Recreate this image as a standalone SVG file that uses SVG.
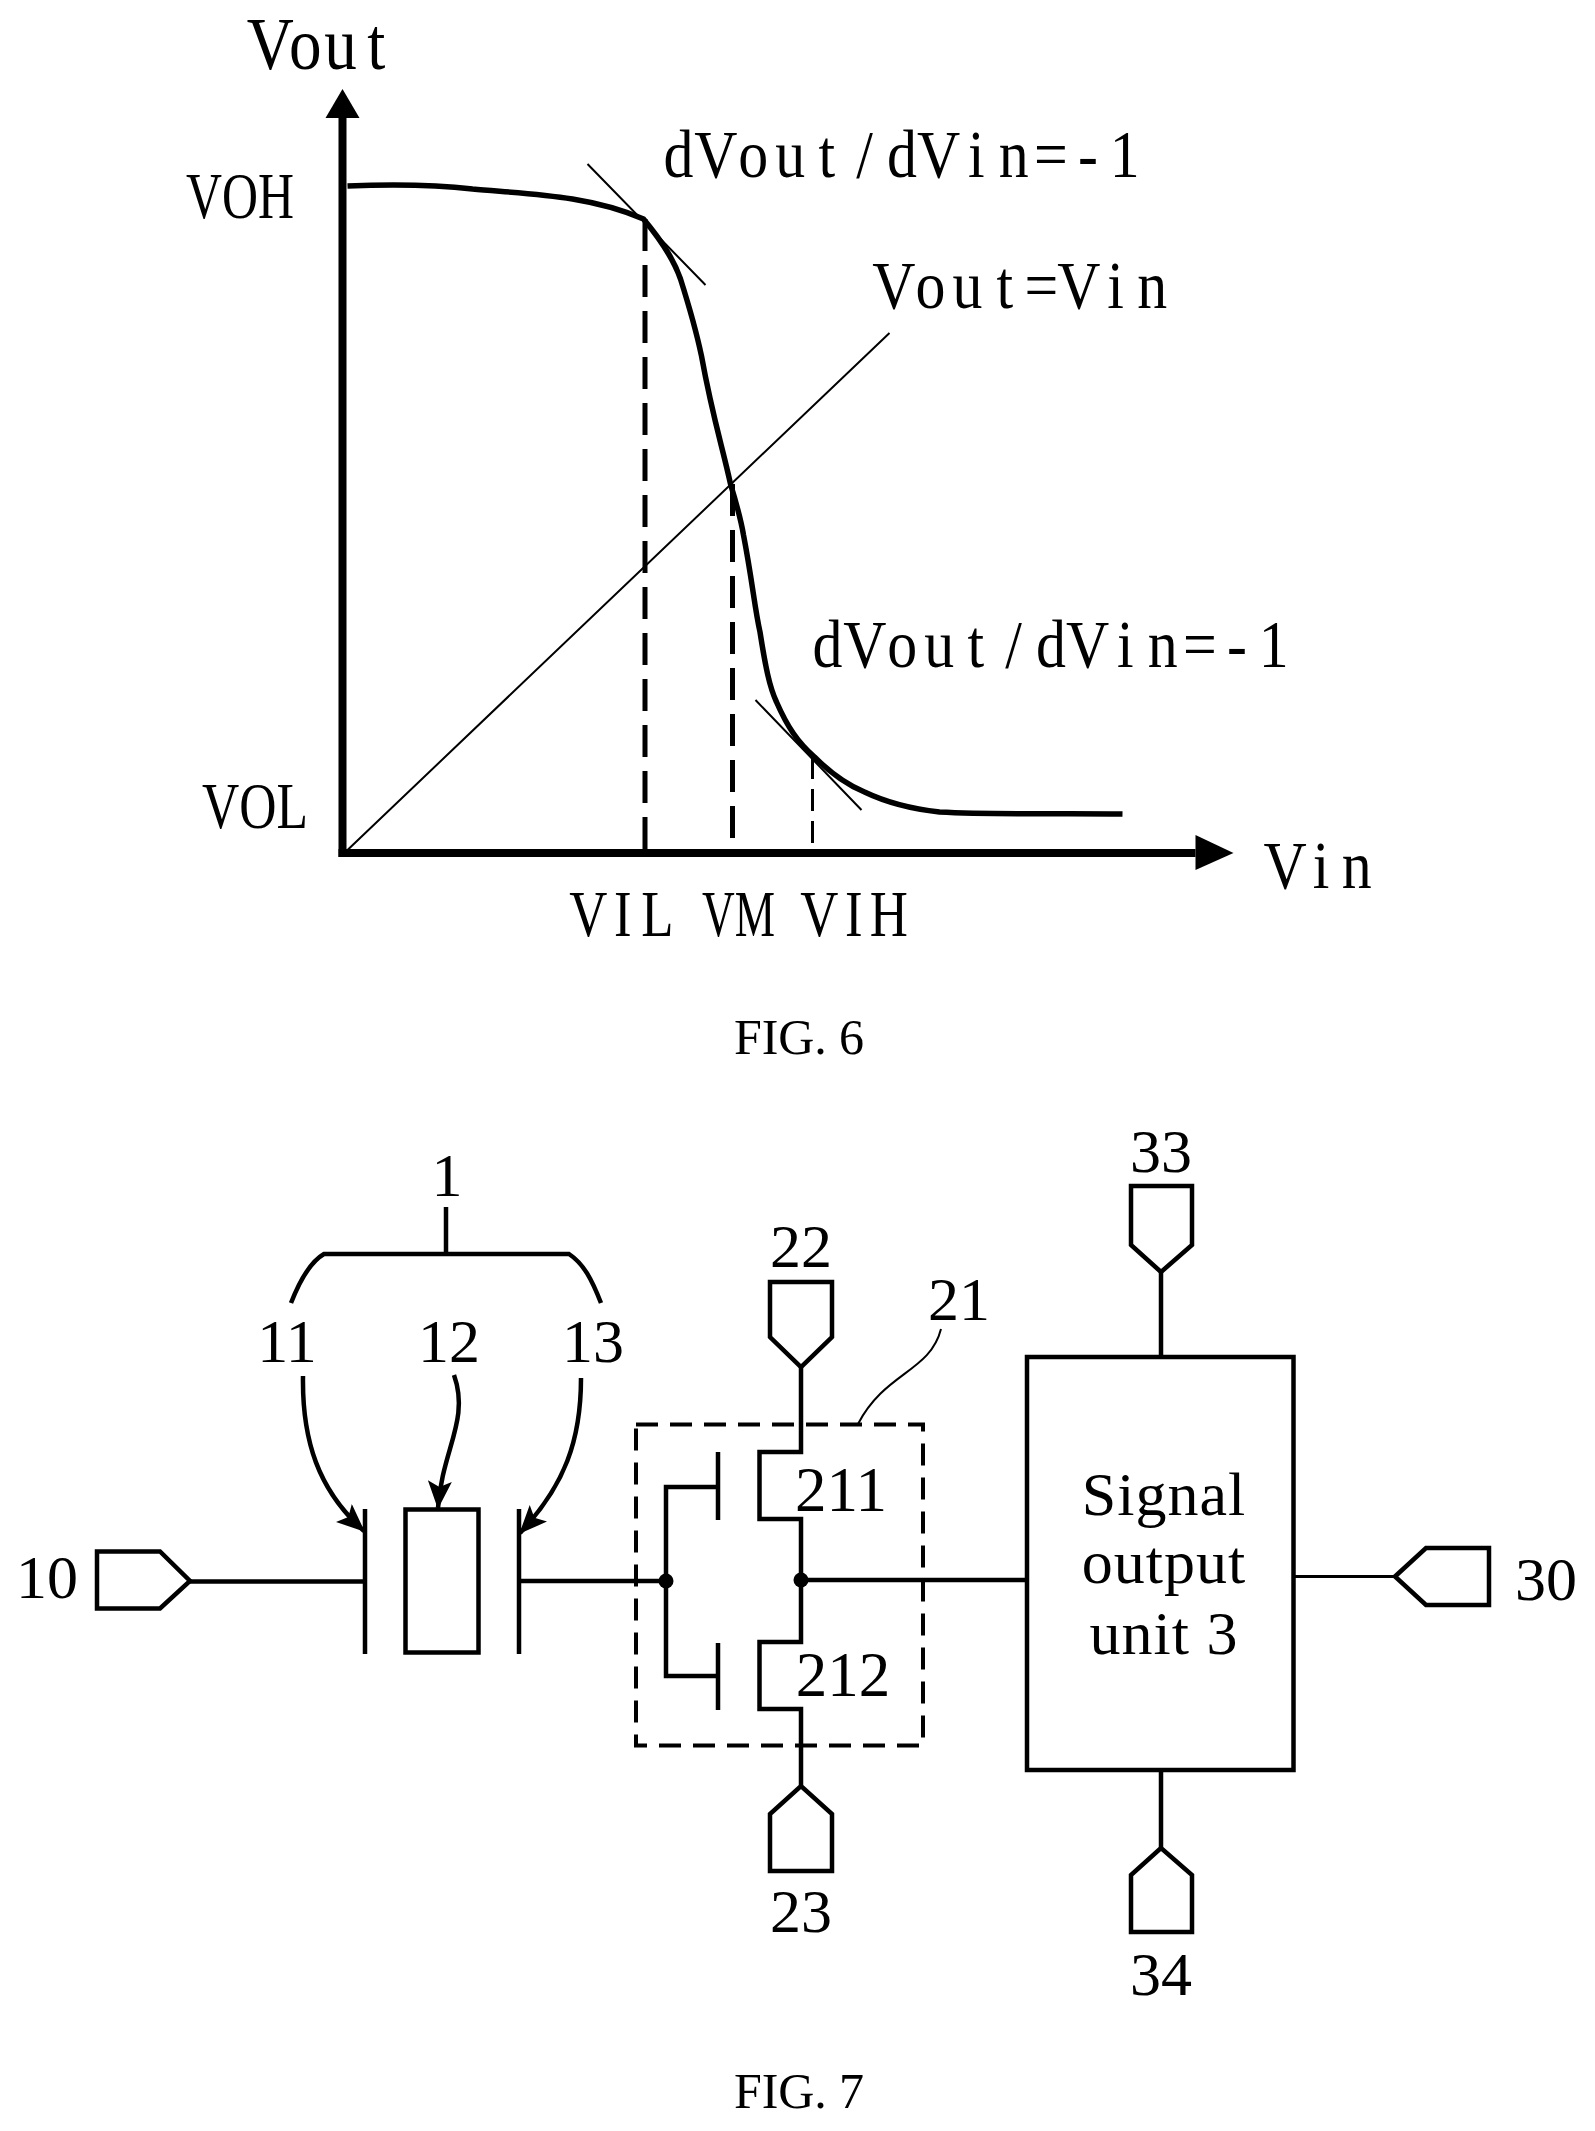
<svg xmlns="http://www.w3.org/2000/svg" width="1595" height="2131" viewBox="0 0 1595 2131">
<style>
text{font-family:"Liberation Serif","Times New Roman",serif;fill:#000}
.n{font-size:62px;text-anchor:middle}
.s{font-size:63px;text-anchor:middle}
.u{font-size:62px;letter-spacing:1px;text-anchor:middle}
.g{font-size:68px}
.h{font-size:66px}
.v{font-size:74px}
.cap{font-size:50px}
.l{fill:none;stroke:#000;stroke-width:4.500}
.p{fill:#fff;stroke:#000;stroke-width:4.500}
.t{fill:none;stroke:#000;stroke-width:2}
.d{fill:none;stroke:#000;stroke-width:5;stroke-dasharray:32 14}
.dot{fill:#000}
</style>
<defs>
<marker id="ah" viewBox="0 0 28 24" refX="27" refY="12" markerWidth="28" markerHeight="24" markerUnits="userSpaceOnUse" orient="auto"><path d="M0 0L28 12L0 24L6 12Z" fill="#000"/></marker>
</defs>
<rect width="1595" height="2131" fill="#fff"/>

<g id="fig6-plot" transform="translate(-2.500,-3)">
<path d="M345 119V860" fill="none" stroke="#000" stroke-width="8"/>
<path d="M341 856H1198" fill="none" stroke="#000" stroke-width="8"/>
<path d="M345 92L362 121H328Z"/>
<path d="M1236 856L1198 838V873Z"/>
<path d="M350 189C400 187 440 188 475 192C530 197 592 198 646 222C665 245 676 262 683 282C695 320 700 340 704 359C715 420 725 450 733 487C740 510 743 520 746 538C755 585 757 610 762.500 635C768 670 772 690 779 705C790 730 800 745 817 760C835 778 850 788 867 795C890 806 915 812 942 815C1000 818 1060 816 1125 817" fill="none" stroke="#000" stroke-width="5.500"/>
<path class="t" d="M590 167L708 288M758 703L864 813M350 853L892 336"/>
<path class="d" d="M647.500 222V856"/>
<path class="d" d="M735 487V856"/>
<path d="M815 760V856" fill="none" stroke="#000" stroke-width="3" stroke-dasharray="22 10"/>
</g>
<g id="fig6-labels">
<text class="v" transform="translate(252,69) scale(.88,1)" x="-6 42 82 131" y="0">Vout</text>
<text class="h" x="186" y="218" textLength="108" lengthAdjust="spacingAndGlyphs">VOH</text>
<text class="h" x="202" y="828" textLength="106" lengthAdjust="spacingAndGlyphs">VOL</text>
<text class="g" transform="translate(660,177) scale(.88,1)" x="4 39 89 131 180 223 258 292 350 385 425 475 511" y="0">dVout/dVin=-1</text>
<text class="g" transform="translate(875,308) scale(.88,1)" x="-3 46 88 138 170 207 264 298" y="0">Vout=Vin</text>
<text class="g" transform="translate(809,667) scale(.88,1)" x="4 39 89 131 180 223 258 292 350 385 425 475 511" y="0">dVout/dVin=-1</text>
<text class="g" transform="translate(1267,888) scale(.88,1)" x="-4 52 85" y="0">Vin</text>
<text class="h" transform="translate(570,936) scale(.8,1)" x="-1 55 89" y="0">VIL</text>
<text class="h" x="702" y="936" textLength="73" lengthAdjust="spacingAndGlyphs">VM</text>
<text class="h" transform="translate(801,936) scale(.8,1)" x="-1 55 86" y="0">VIH</text>
<text class="cap" x="734" y="1054" textLength="130">FIG. 6</text>
</g>

<g id="connectors">
<path class="l" d="M446 1207V1254"/>
<path class="l" d="M291 1303C300 1280 310 1262 324 1254H569C584 1264 592 1280 601 1303"/>
<path class="l" d="M303 1376C302 1440 318 1490 364 1531" marker-end="url(#ah)"/>
<path class="l" d="M454 1375C470 1420 442 1450 438 1508" marker-end="url(#ah)"/>
<path class="l" d="M581 1378C581 1440 565 1485 520 1533" marker-end="url(#ah)"/>
<path class="l" d="M190 1581.500H365"/>
<path class="l" d="M519 1581H666"/>
<path class="l" d="M801 1367V1452H759.500V1519H801V1642H759.500V1709H801V1785"/>
<path class="l" d="M718 1487H666V1676H718"/>
<path class="l" d="M801 1580H1027"/>
<path class="l" d="M1161 1271V1357"/>
<path class="l" d="M1161 1770V1847"/>
<path d="M1294 1576.500H1395" fill="none" stroke="#000" stroke-width="3"/>
<path class="t" stroke-width="3" d="M941 1329C930 1372 885 1372 858 1424"/>
</g>

<g id="node-capacitor">
<path class="l" d="M365 1509V1654M519 1509V1654"/>
<rect class="p" x="405.500" y="1509.500" width="73" height="143"/>
</g>
<g id="node-10"><path class="p" d="M97 1551.500H160L190 1581L160 1608.500H97Z"/><text class="n" x="47" y="1598">10</text></g>
<g id="node-inverter">
<rect x="636" y="1424.500" width="287" height="321" fill="none" stroke="#000" stroke-width="4" stroke-dasharray="22 12"/>
<path class="l" d="M718 1452V1520M718 1643V1710"/>
<circle class="dot" cx="666" cy="1581" r="7.500"/>
<circle class="dot" cx="801" cy="1580" r="7.500"/>
<text class="s" x="841" y="1511">211</text>
<text class="s" x="843" y="1696">212</text>
</g>
<g id="node-22"><path class="p" d="M770 1282H832V1337L801 1367L770 1337Z"/><text class="n" x="801" y="1267">22</text></g>
<g id="node-23"><path class="p" d="M770 1871H832V1814L801 1786L770 1814Z"/><text class="n" x="801" y="1932">23</text></g>
<g id="node-signal-output">
<rect class="p" x="1027" y="1357" width="266.500" height="413"/>
<text class="u" x="1164" y="1515">Signal</text>
<text class="u" x="1164" y="1583">output</text>
<text class="u" x="1164" y="1654">unit 3</text>
</g>
<g id="node-33"><path class="p" d="M1131 1186H1192V1245L1161 1272L1131 1245Z"/><text class="n" x="1161" y="1172">33</text></g>
<g id="node-34"><path class="p" d="M1131 1932H1192V1875L1161 1848L1131 1875Z"/><text class="n" x="1161" y="1995">34</text></g>
<g id="node-30"><path class="p" d="M1395 1576.500L1426 1548H1489V1605H1426Z"/><text class="n" x="1546" y="1600">30</text></g>

<g id="labels">
<text class="n" x="447" y="1196">1</text>
<text class="n" x="287" y="1362">11</text>
<text class="n" x="449" y="1362">12</text>
<text class="n" x="593" y="1362">13</text>
<text class="n" x="959" y="1320">21</text>
<text class="cap" x="734" y="2108" textLength="130">FIG. 7</text>
</g>
</svg>
